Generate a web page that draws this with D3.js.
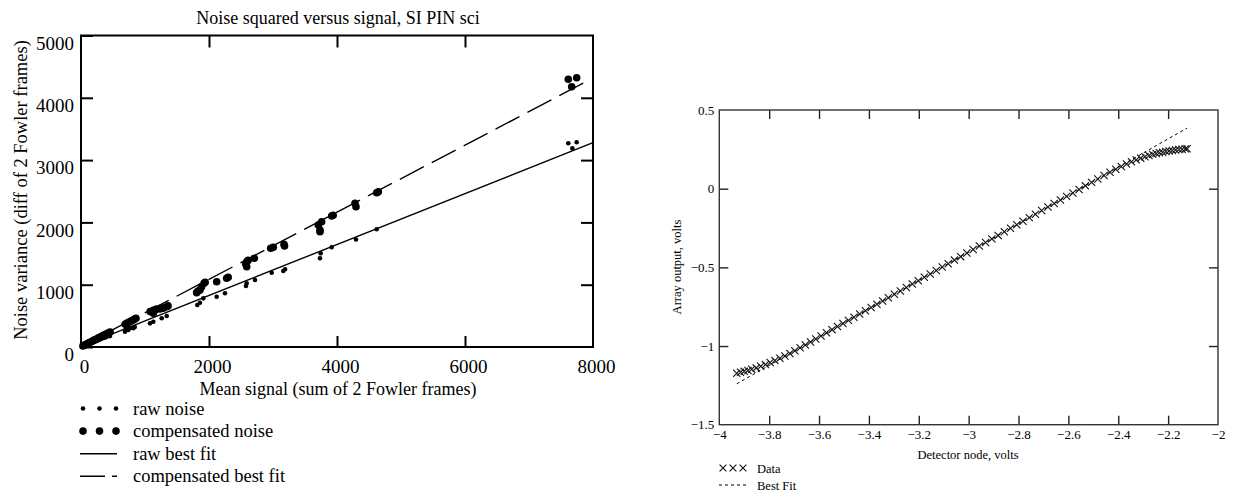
<!DOCTYPE html>
<html>
<head>
<meta charset="utf-8">
<script src="https://cdn.jsdelivr.net/npm/d3@7"></script>
<style>
  body { margin: 0; background: #fff; }
</style>
</head>
<body>
<svg id="chart" width="1236" height="493"></svg>
<script>
// ---- left panel: noise variance vs signal ----
const rawSignal = [30, 55, 80, 105, 130, 160, 190, 220, 250, 280, 310, 340, 370, 400, 453,
  688, 700, 739, 760, 817, 840, 1078, 1130, 1261, 1339,
  1817, 1859, 1911, 2120, 2250, 2578, 2589, 2719, 2980, 3161, 3188,
  3734, 3745, 3917, 4297, 4620, 7614, 7745, 7677]
const rawVariance = [12, 22, 33, 43, 53, 65, 78, 90, 102, 115, 127, 140, 150, 163, 175,
  246, 290, 273, 300, 300, 320, 380, 406, 461, 498,
  674, 711, 781, 807, 862, 979, 1022, 1075, 1193, 1220, 1247,
  1424, 1504, 1600, 1725, 1889, 3270, 3286, 3189]

const compSignal = [30, 55, 80, 105, 130, 160, 190, 220, 250, 280, 310, 340, 370, 400, 430, 455,
  690, 714, 739, 766, 790, 817, 840, 859,
  1080, 1104, 1130, 1130, 1156, 1180, 1234, 1260, 1286, 1339, 1360,
  1807, 1830, 1859, 1885, 1922, 1940, 2120, 2276, 2300,
  2573, 2589, 2589, 2610, 2708, 2964, 3005, 3180, 3172,
  3708, 3734, 3760, 3734, 3917, 3940, 4281, 4297, 4620, 4646,
  7614, 7745, 7667]
const compVariance = [18, 30, 42, 57, 70, 85, 102, 118, 133, 150, 165, 182, 196, 212, 228, 240,
  365, 380, 392, 410, 420, 433, 450, 461,
  570, 567, 541, 590, 594, 610, 610, 630, 621, 647, 660,
  872, 900, 915, 968, 1022, 1040, 1048, 1103, 1120,
  1337, 1369, 1289, 1390, 1424, 1584, 1600, 1621, 1650,
  1958, 1878, 2011, 1851, 2103, 2115, 2306, 2252, 2477, 2493,
  4297, 4323, 4178]

const rawFitX = [0, 8000], rawFitY = [10, 3280]
const compFitX = [0, 7950], compFitY = [10, 4290]

const leftXTicks = [0, 2000, 4000, 6000, 8000]
const leftYTicks = [0, 1000, 2000, 3000, 4000, 5000]
const leftLegend = ['raw noise', 'compensated noise', 'raw best fit', 'compensated best fit']

// ---- right panel: array output vs detector node ----
const nodeVolts = [-3.930, -3.915, -3.900, -3.885, -3.870, -3.852, -3.834, -3.815, -3.796, -3.777,
  -3.757, -3.737, -3.717, -3.697, -3.676, -3.655, -3.634, -3.613, -3.592, -3.570,
  -3.548, -3.526, -3.504, -3.482, -3.460, -3.437, -3.414, -3.391, -3.368, -3.345,
  -3.322, -3.298, -3.274, -3.250, -3.226, -3.202, -3.178, -3.154, -3.130, -3.106,
  -3.082, -3.057, -3.032, -3.007, -2.982, -2.957, -2.932, -2.907, -2.882, -2.857,
  -2.832, -2.807, -2.782, -2.757, -2.732, -2.707, -2.682, -2.657, -2.632, -2.607,
  -2.582, -2.557, -2.532, -2.507, -2.482, -2.457, -2.433, -2.410, -2.388, -2.367,
  -2.347, -2.328, -2.310, -2.293, -2.277, -2.262, -2.248, -2.235, -2.222, -2.209,
  -2.196, -2.183, -2.170, -2.157, -2.144, -2.131, -2.124]
const outputVolts = [-1.173, -1.167, -1.161, -1.155, -1.148, -1.139, -1.129, -1.118, -1.105, -1.092,
  -1.078, -1.063, -1.047, -1.030, -1.011, -0.993, -0.974, -0.955, -0.936, -0.916,
  -0.896, -0.876, -0.857, -0.837, -0.817, -0.796, -0.776, -0.755, -0.734, -0.714,
  -0.693, -0.671, -0.650, -0.628, -0.606, -0.585, -0.563, -0.542, -0.520, -0.498,
  -0.477, -0.454, -0.432, -0.409, -0.387, -0.364, -0.342, -0.319, -0.297, -0.274,
  -0.252, -0.229, -0.207, -0.184, -0.162, -0.139, -0.117, -0.094, -0.072, -0.049,
  -0.027, -0.005, 0.018, 0.040, 0.062, 0.084, 0.104, 0.123, 0.141, 0.157,
  0.171, 0.183, 0.194, 0.203, 0.211, 0.218, 0.223, 0.228, 0.232, 0.236,
  0.240, 0.243, 0.246, 0.249, 0.251, 0.253, 0.254]
const fitNode = [-3.93, -2.124], fitOutput = [-1.24, 0.385]

const rightXTicks = [-4, -3.8, -3.6, -3.4, -3.2, -3, -2.8, -2.6, -2.4, -2.2, -2]
const rightYTicks = [-1.5, -1, -0.5, 0, 0.5]
const rightLegend = ['Data', 'Best Fit']

const SERIF = '"Liberation Serif", "DejaVu Serif", serif'
const svg = d3.select('#chart')
const minus = d => String(d).replace('-', '\u2212')
const serifText = (sel, size) => sel.style('font-family', SERIF).style('font-size', size + 'px').style('fill', '#000')

// ================= left panel =================
const xL = d3.scaleLinear().domain([0, 8000]).range([81, 593])
const yL = d3.scaleLinear().domain([0, 5000]).range([347, 35.5])
const L = svg.append('g')

function styleAxis(g, size) {
  g.select('.domain').remove()
  g.selectAll('line').attr('stroke', '#000').attr('stroke-width', 2)
  g.selectAll('text').call(serifText, size)
}

L.append('g').attr('transform', 'translate(81,0)')
  .call(d3.axisLeft(yL).tickValues(leftYTicks).tickSizeInner(-12).tickSizeOuter(0).tickPadding(7).tickFormat(d3.format('d')))
  .call(g => styleAxis(g, 19))
  .call(g => g.selectAll('text').attr('dy', '0.72em'))
L.append('g').attr('transform', 'translate(593,0)')
  .call(d3.axisRight(yL).tickValues(leftYTicks.slice(1, 5)).tickSizeInner(-12).tickSizeOuter(0).tickFormat(''))
  .call(g => styleAxis(g, 19))
L.append('g').attr('transform', 'translate(0,347)')
  .call(d3.axisBottom(xL).tickValues(leftXTicks).tickSizeInner(-11).tickSizeOuter(0).tickPadding(13).tickFormat(d3.format('d')))
  .call(g => styleAxis(g, 19))
  .call(g => g.selectAll('text').attr('dx', 3))
  .call(g => g.selectAll('line').filter(d => d === 0 || d === 8000).remove())
L.append('g').attr('transform', 'translate(0,35.5)')
  .call(d3.axisTop(xL).tickValues(leftXTicks.slice(1, 4)).tickSizeInner(-12).tickSizeOuter(0).tickFormat(''))
  .call(g => styleAxis(g, 19))

L.append('rect').attr('x', xL(0)).attr('y', yL(5000))
  .attr('width', xL(8000) - xL(0)).attr('height', yL(0) - yL(5000))
  .attr('fill', 'none').attr('stroke', '#000').attr('stroke-width', 2)

const lineL = d3.line().x(d => xL(d[0])).y(d => yL(d[1]))
L.append('path').datum(d3.zip(rawFitX, rawFitY)).attr('d', lineL)
  .attr('fill', 'none').attr('stroke', '#000').attr('stroke-width', 1.4)
L.append('path').datum(d3.zip(compFitX, compFitY)).attr('d', lineL)
  .attr('fill', 'none').attr('stroke', '#000').attr('stroke-width', 1.4)
  .attr('stroke-dasharray', '27,9')

L.append('g').selectAll('circle').data(d3.zip(rawSignal, rawVariance)).join('circle')
  .attr('cx', d => xL(d[0])).attr('cy', d => yL(d[1])).attr('r', 2.3).attr('fill', '#000')
L.append('g').selectAll('circle').data(d3.zip(compSignal, compVariance)).join('circle')
  .attr('cx', d => xL(d[0])).attr('cy', d => yL(d[1])).attr('r', 3.8).attr('fill', '#000')

L.append('text').attr('x', 338).attr('y', 24).attr('text-anchor', 'middle')
  .call(serifText, 18).text('Noise squared versus signal, SI PIN sci')
L.append('text').attr('x', 338).attr('y', 395).attr('text-anchor', 'middle')
  .call(serifText, 18).text('Mean signal (sum of 2 Fowler frames)')
L.append('text').attr('transform', 'translate(27,190) rotate(-90)').attr('text-anchor', 'middle')
  .call(serifText, 18.5).text('Noise variance (diff of 2 Fowler frames)')

// legend
const legL = L.append('g')
leftLegend.forEach((label, i) => {
  const cy = 408.5 + i * 22.6
  const row = legL.append('g')
  if (i < 2) {
    row.selectAll('circle').data([0, 1, 2]).join('circle')
      .attr('cx', k => 83 + k * 16.5).attr('cy', cy).attr('r', i === 0 ? 2.3 : 3.8).attr('fill', '#000')
  } else {
    row.append('line').attr('x1', 80).attr('x2', 117).attr('y1', cy).attr('y2', cy)
      .attr('stroke', '#000').attr('stroke-width', 1.4)
      .attr('stroke-dasharray', i === 3 ? '25,7' : null)
  }
  row.append('text').attr('x', 133).attr('y', cy + 6).call(serifText, 18.5).text(label)
})

// ================= right panel =================
const xR = d3.scaleLinear().domain([-4, -2]).range([719.3, 1218])
const yR = d3.scaleLinear().domain([-1.5, 0.5]).range([424.7, 110])
const R = svg.append('g')

function styleAxisR(g) {
  g.select('.domain').remove()
  g.selectAll('line').attr('stroke', '#222').attr('stroke-width', 1.4)
  g.selectAll('text').call(serifText, 13)
}

R.append('g').attr('transform', 'translate(719.3,0)')
  .call(d3.axisLeft(yR).tickValues(rightYTicks).tickSizeInner(-9).tickSizeOuter(0).tickPadding(5).tickFormat(minus))
  .call(styleAxisR)
  .call(g => g.selectAll('line').filter(d => d === -1.5 || d === 0.5).remove())
R.append('g').attr('transform', 'translate(1218,0)')
  .call(d3.axisRight(yR).tickValues(rightYTicks.slice(1, 4)).tickSizeInner(-9).tickSizeOuter(0).tickFormat(''))
  .call(styleAxisR)
R.append('g').attr('transform', 'translate(0,424.7)')
  .call(d3.axisBottom(xR).tickValues(rightXTicks).tickSizeInner(-9).tickSizeOuter(0).tickPadding(5).tickFormat(minus))
  .call(styleAxisR)
  .call(g => g.selectAll('line').filter(d => d === -4 || d === -2).remove())
R.append('g').attr('transform', 'translate(0,110)')
  .call(d3.axisTop(xR).tickValues(rightXTicks.slice(1, 10)).tickSizeInner(-9).tickSizeOuter(0).tickFormat(''))
  .call(styleAxisR)

R.append('rect').attr('x', xR(-4)).attr('y', yR(0.5))
  .attr('width', xR(-2) - xR(-4)).attr('height', yR(-1.5) - yR(0.5))
  .attr('fill', 'none').attr('stroke', '#333').attr('stroke-width', 1.4)

const lineR = d3.line().x(d => xR(d[0])).y(d => yR(d[1]))
R.append('path').datum(d3.zip(fitNode, fitOutput)).attr('d', lineR)
  .attr('fill', 'none').attr('stroke', '#000').attr('stroke-width', 1)
  .attr('stroke-dasharray', '3,3')

const cross = (sel, s) => sel.append('path')
  .attr('d', `M${-s},${-s}L${s},${s}M${-s},${s}L${s},${-s}`)
  .attr('stroke', '#111').attr('stroke-width', 1.1).attr('fill', 'none')

R.append('g').selectAll('g').data(d3.zip(nodeVolts, outputVolts)).join('g')
  .attr('transform', d => `translate(${xR(d[0])},${yR(d[1])})`)
  .each(function () { cross(d3.select(this), 3.6) })

R.append('text').attr('x', 968).attr('y', 459).attr('text-anchor', 'middle')
  .call(serifText, 12.5).text('Detector node, volts')
R.append('text').attr('transform', 'translate(681,267) rotate(-90)').attr('text-anchor', 'middle')
  .call(serifText, 12.5).text('Array output, volts')

// legend
const legR = R.append('g')
rightLegend.forEach((label, i) => {
  const cy = 468 + i * 17
  if (i === 0) {
    legR.selectAll('g.mk').data([0, 1, 2]).join('g').attr('class', 'mk')
      .attr('transform', k => `translate(${723 + k * 10},${cy})`)
      .each(function () { cross(d3.select(this), 3.4) })
  } else {
    legR.append('line').attr('x1', 719).attr('x2', 749).attr('y1', cy).attr('y2', cy)
      .attr('stroke', '#000').attr('stroke-width', 1).attr('stroke-dasharray', '3,3')
  }
  legR.append('text').attr('x', 757).attr('y', cy + 5).call(serifText, 12.5).text(label)
})
</script>
</body>
</html>
